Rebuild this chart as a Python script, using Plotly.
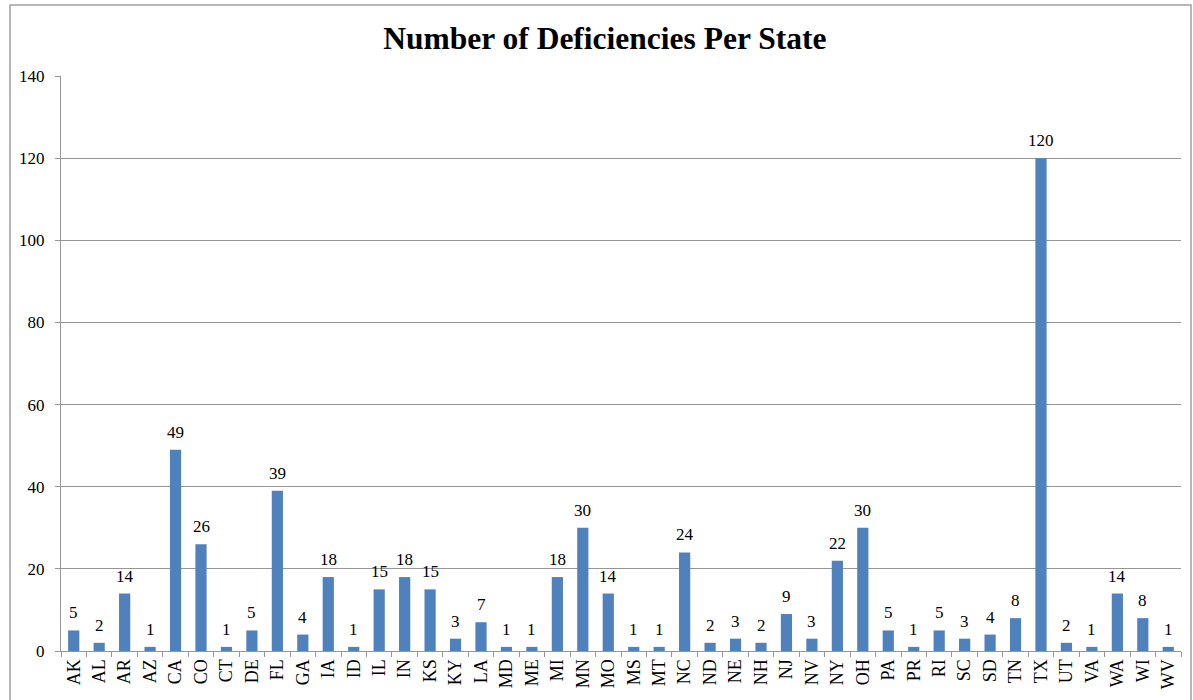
import plotly.graph_objects as go

states = ["AK", "AL", "AR", "AZ", "CA", "CO", "CT", "DE", "FL", "GA", "IA", "ID", "IL",
          "IN", "KS", "KY", "LA", "MD", "ME", "MI", "MN", "MO", "MS", "MT", "NC", "ND",
          "NE", "NH", "NJ", "NV", "NY", "OH", "PA", "PR", "RI", "SC", "SD", "TN", "TX",
          "UT", "VA", "WA", "WI", "WV"]
deficiencies = [5, 2, 14, 1, 49, 26, 1, 5, 39, 4, 18, 1, 15,
                18, 15, 3, 7, 1, 1, 18, 30, 14, 1, 1, 24, 2,
                3, 2, 9, 3, 22, 30, 5, 1, 5, 3, 4, 8, 120,
                2, 1, 14, 8, 1]
y_ticks = [0, 20, 40, 60, 80, 100, 120, 140]

W, H = 1193, 700
ml, mr, mt, mb = 61, 12, 76, 49

serif = "Liberation Serif, Times New Roman, serif"
grid_col = "#969696"

fig = go.Figure(
    go.Bar(
        x=states,
        y=deficiencies,
        marker=dict(color="#4F81BD", line=dict(width=0)),
        hovertemplate="%{x}: %{y}<extra></extra>",
    )
)

# Value labels above each bar
for s, v in zip(states, deficiencies):
    fig.add_annotation(
        x=s, y=v, xref="x", yref="y",
        text=str(v),
        showarrow=False,
        yanchor="bottom",
        yshift=6,
        font=dict(family=serif, size=17, color="#000000"),
    )

fig.update_layout(
    width=W,
    height=H,
    margin=dict(l=ml, r=mr, t=mt, b=mb),
    paper_bgcolor="#FFFFFF",
    plot_bgcolor="#FFFFFF",
    bargap=0.56,
    showlegend=False,
    title=dict(
        text="<b>Number of Deficiencies Per State</b>",
        font=dict(family=serif, size=31.5, color="#000000"),
        x=0.507,
        xanchor="center",
        y=1 - 38 / H,
        yanchor="middle",
    ),
)

fig.update_xaxes(
    type="category",
    tickangle=-90,
    tickfont=dict(family=serif, size=18, color="#000000"),
    ticks="outside",
    tickson="boundaries",
    ticklen=5,
    tickcolor=grid_col,
    showline=True,
    linecolor=grid_col,
    linewidth=1,
    showgrid=False,
)

fig.update_yaxes(
    range=[0, 140],
    tickvals=y_ticks,
    ticktext=[str(v) for v in y_ticks],
    tickfont=dict(family=serif, size=17, color="#000000"),
    ticks="outside",
    ticklen=5,
    ticklabelstandoff=7,
    tickcolor=grid_col,
    showline=True,
    linecolor=grid_col,
    linewidth=1,
    showgrid=True,
    gridcolor=grid_col,
    gridwidth=1,
    zeroline=False,
)

# Outer chart frame
pw = W - ml - mr
ph = H - mt - mb
fig.add_shape(
    type="rect",
    xref="paper", yref="paper",
    x0=(10 - ml) / pw, x1=(W - 2 - ml) / pw,
    y0=-(H + 5 - mt - ph) / ph, y1=1 + (mt - 5) / ph,
    line=dict(color="#A0A0A0", width=1.5),
    fillcolor="rgba(0,0,0,0)",
    layer="below",
)

fig.write_html("out.html")
